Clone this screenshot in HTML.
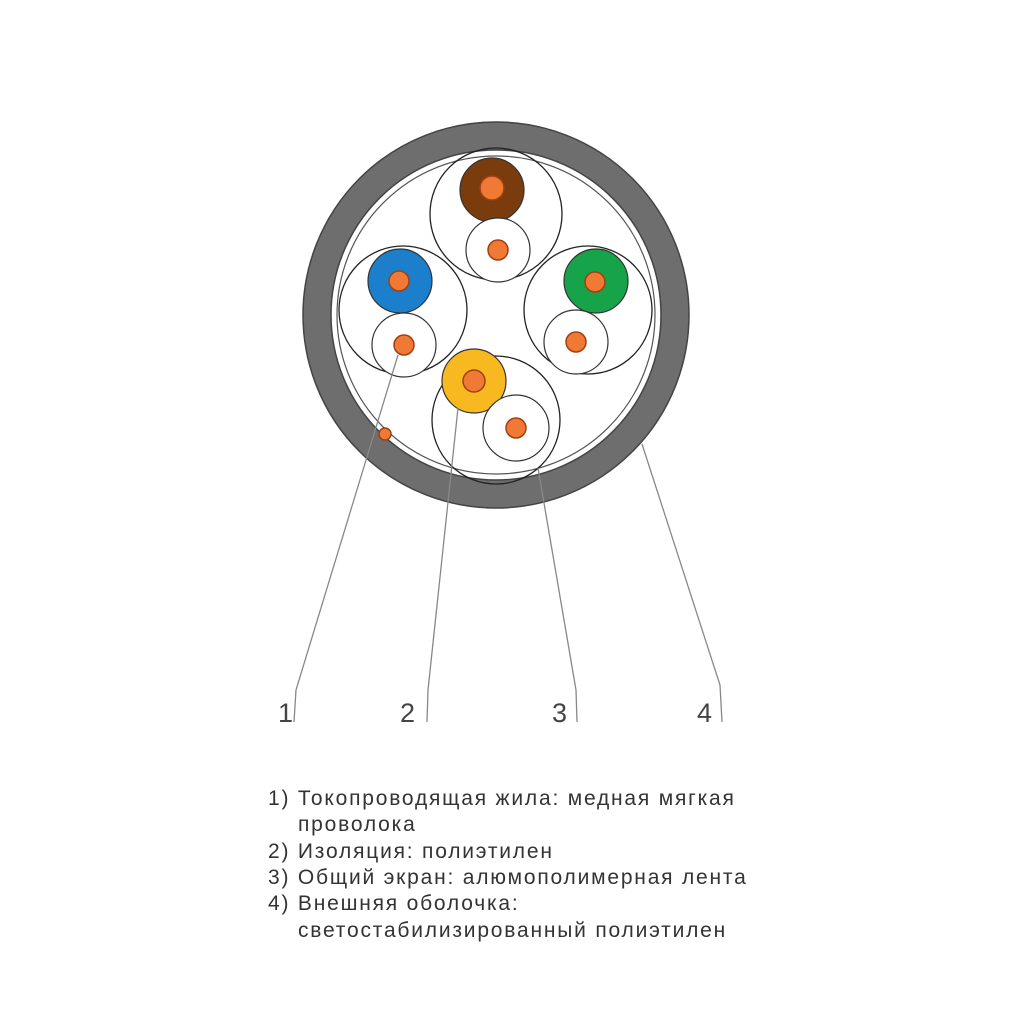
<!DOCTYPE html>
<html><head><meta charset="utf-8"><style>
html,body{margin:0;padding:0;background:#fff;width:1024px;height:1024px;overflow:hidden}
.t{position:absolute;left:268px;font:21px "Liberation Sans",sans-serif;color:#333;white-space:nowrap;letter-spacing:1.8px}
</style></head><body>
<svg width="1024" height="1024" style="position:absolute;left:0;top:0">
<circle cx="496" cy="315" r="179" fill="none" stroke="#6e6e6e" stroke-width="28"/>
<circle cx="496" cy="315" r="193" fill="none" stroke="#444" stroke-width="1.5"/>
<circle cx="496" cy="315" r="165" fill="#fff" stroke="#444" stroke-width="1.5"/>
<circle cx="496" cy="315" r="159" fill="none" stroke="#555" stroke-width="1.2"/>
<g fill="none" stroke="#222" stroke-width="1.3">
<circle cx="496" cy="214" r="66"/><circle cx="403" cy="310" r="64"/><circle cx="588" cy="310" r="64"/><circle cx="496" cy="420" r="64"/>
</g>
<g stroke="#333" stroke-width="1.2">
<circle cx="492" cy="190" r="32" fill="#7a3c0c"/>
<circle cx="498" cy="250" r="32" fill="#fff"/>
<circle cx="400" cy="281" r="32" fill="#1b7fcc"/>
<circle cx="404" cy="345" r="32" fill="#fff"/>
<circle cx="596" cy="281" r="32" fill="#17a34a"/>
<circle cx="576" cy="342" r="32" fill="#fff"/>
<circle cx="474" cy="381" r="32" fill="#f7b91f"/>
<circle cx="516" cy="428" r="33" fill="#fff"/>
</g>
<g fill="#f07a35" stroke="#a04010" stroke-width="1.5">
<circle cx="492" cy="188" r="12"/><circle cx="498" cy="250" r="10"/>
<circle cx="399" cy="281" r="10"/><circle cx="404" cy="345" r="10"/>
<circle cx="595" cy="282" r="10"/><circle cx="576" cy="342" r="10"/>
<circle cx="474" cy="381" r="11"/><circle cx="516" cy="428" r="10"/>
<circle cx="385" cy="434" r="6"/>
</g>
<g fill="none" stroke="#888" stroke-width="1.3">
<path d="M398 355 L296 690 L294 722"/>
<path d="M458 408 L428 690 L427 722"/>
<path d="M538 468 L576 690 L577 722"/>
<path d="M642 444 L720 685 L722 722"/>
</g>
<g font-family="Liberation Sans,sans-serif" font-size="27" fill="#444">
<text x="278" y="722">1</text><text x="400" y="722">2</text><text x="552" y="722">3</text><text x="697" y="722">4</text>
</g>
</svg>
<div class="t" style="top:787px">1) Токопроводящая жила: медная мягкая</div>
<div class="t" style="top:813px;left:298px">проволока</div>
<div class="t" style="top:840px">2) Изоляция: полиэтилен</div>
<div class="t" style="top:866px">3) Общий экран: алюмополимерная лента</div>
<div class="t" style="top:892px">4) Внешняя оболочка:</div>
<div class="t" style="top:919px;left:298px">светостабилизированный полиэтилен</div>
</body></html>
